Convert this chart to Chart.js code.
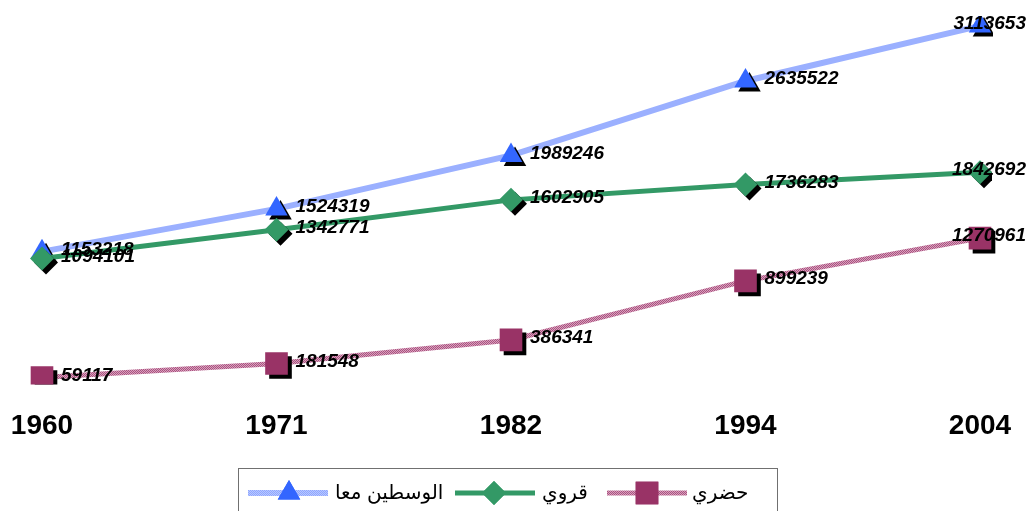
<!DOCTYPE html>
<html>
<head>
<meta charset="utf-8">
<script src="https://cdn.jsdelivr.net/npm/chart.js@4/dist/chart.umd.min.js"></script>
<style>
  html, body { margin: 0; padding: 0; background: #fff; }
  #wrap { width: 1027px; height: 511px; position: relative; }
</style>
</head>
<body>
<div id="wrap"><canvas id="popChart" width="1027" height="511"></canvas></div>
<script>
// years of census
var years = ['1960', '1971', '1982', '1994', '2004'];
// الوسطين معا
var totalValues = [1153218, 1524319, 1989246, 2635522, 3113653];
// قروي
var ruralValues = [1094101, 1342771, 1602905, 1736283, 1842692];
// حضري
var urbanValues = [59117, 181548, 386341, 899239, 1270961];
var seriesNames = ['الوسطين معا', 'قروي', 'حضري'];

// hatched pink line like the original
function makeHatch(c1, c2) {
    var p = document.createElement('canvas');
    p.width = 2; p.height = 2;
    var g = p.getContext('2d');
    g.fillStyle = c1; g.fillRect(0, 0, 2, 2);
    g.fillStyle = c2; g.fillRect(1, 0, 1, 1); g.fillRect(0, 1, 1, 1);
    return g.createPattern(p, 'repeat');
}
var ctx = document.getElementById('popChart');
var urbanLine = makeHatch('#a9547f', '#d99fbe');
var totalLegendLine = makeHatch('#8fa6ff', '#b8c8ff');

// black drop shadow under every marker
var origPointDraw = Chart.PointElement.prototype.draw;
Chart.PointElement.prototype.draw = function (c, area) {
    c.save();
    c.shadowColor = '#000';
    c.shadowOffsetX = 4;
    c.shadowOffsetY = 4;
    c.shadowBlur = 0;
    origPointDraw.call(this, c, area);
    c.restore();
};

var valueLabels = {
    id: 'valueLabels',
    afterDatasetsDraw: function (chart) {
        var c = chart.ctx;
        c.save();
        c.font = 'italic bold 19px Arial, "Liberation Sans"';
        c.fillStyle = '#000';
        c.textBaseline = 'middle';
        c.textAlign = 'left';
        chart.data.datasets.forEach(function (ds, i) {
            var meta = chart.getDatasetMeta(i);
            meta.data.forEach(function (pt, j) {
                var txt = String(ds.data[j]);
                var w = c.measureText(txt).width;
                var x = Math.min(pt.x + 19, chart.width - w - 1);
                c.fillText(txt, x, pt.y - 2);
            });
        });
        c.restore();
    }
};

var boxLegend = {
    id: 'boxLegend',
    afterDraw: function (chart) {
        var c = chart.ctx;
        c.save();
        c.strokeStyle = '#707070';
        c.lineWidth = 1;
        c.strokeRect(238.5, 468.5, 539, 60);
        var items = [
            {line: [248, 328], mark: 289, text: 335},
            {line: [455, 535], mark: 494, text: 542},
            {line: [607, 687], mark: 647, text: 692}
        ];
        var y = 493;
        chart.data.datasets.forEach(function (ds, i) {
            var it = items[i];
            c.strokeStyle = i === 0 ? totalLegendLine : ds.borderColor;
            c.lineWidth = ds.borderWidth;
            c.beginPath();
            c.moveTo(it.line[0], y);
            c.lineTo(it.line[1], y);
            c.stroke();
            c.fillStyle = ds.pointBackgroundColor;
            Chart.helpers.drawPoint(c, {
                pointStyle: ds.pointStyle,
                radius: ds.legendRadius,
                borderWidth: 0
            }, it.mark, y);
            c.fill();
            c.fillStyle = '#000';
            c.font = '20px Arial, "DejaVu Sans"';
            c.textBaseline = 'middle';
            c.textAlign = 'left';
            c.fillText(seriesNames[i], it.text, y);
        });
        c.restore();
    }
};

var chart = new Chart(ctx, {
    type: 'line',
    data: {
        labels: years,
        datasets: [{
            label: seriesNames[0],
            data: totalValues,
            borderColor: '#9bb0ff',
            borderWidth: 6,
            pointStyle: 'triangle',
            pointRadius: 13,
            legendRadius: 13,
            pointBackgroundColor: '#3366ff',
            pointBorderWidth: 0,
            order: 1
        }, {
            label: seriesNames[1],
            data: ruralValues,
            borderColor: '#339966',
            borderWidth: 5,
            pointStyle: 'rectRot',
            pointRadius: 12,
            legendRadius: 12,
            pointBackgroundColor: '#339966',
            pointBorderWidth: 0,
            order: 0
        }, {
            label: seriesNames[2],
            data: urbanValues,
            borderColor: urbanLine,
            borderWidth: 5,
            pointStyle: 'rect',
            pointRadius: 16,
            legendRadius: 16,
            pointBackgroundColor: '#993366',
            pointBorderWidth: 0,
            order: 0
        }]
    },
    options: {
        responsive: false,
        animation: false,
        tension: 0,
        layout: { padding: { top: 14, left: 42, right: 47, bottom: 43 } },
        plugins: {
            legend: { display: false },
            tooltip: { enabled: false }
        },
        scales: {
            x: {
                offset: false,
                border: { display: false },
                grid: { display: false, drawTicks: false },
                ticks: {
                    color: '#000',
                    font: { family: 'Arial, "Liberation Sans"', size: 28, weight: 'bold' },
                    padding: 25,
                    maxRotation: 0,
                    autoSkip: false
                },
                // let layout.padding alone place the first and last year
                afterFit: function (scale) {
                    scale.paddingLeft = 0;
                    scale.paddingRight = 0;
                }
            },
            y: {
                display: false,
                min: 0,
                max: 3200000
            }
        }
    },
    plugins: [valueLabels, boxLegend]
});
</script>
</body>
</html>
